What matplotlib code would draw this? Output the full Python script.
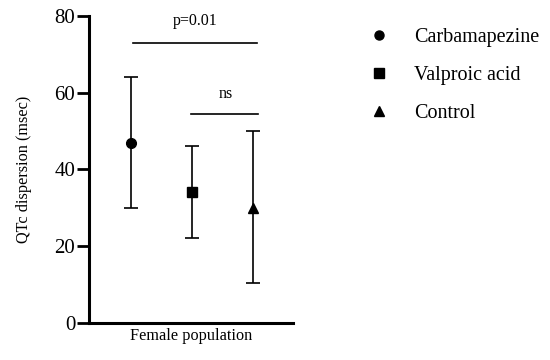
import matplotlib
matplotlib.use("Agg")
import matplotlib.pyplot as plt
from matplotlib.lines import Line2D

plt.rcParams['font.family'] = ['Liberation Serif', 'DejaVu Serif']

groups = ["Carbamapezine", "Valproic acid", "Control"]
means = [47, 34, 30]
lows = [30, 22, 10.5]
highs = [64, 46, 50]
markers = ["o", "s", "^"]
yticks = [0, 20, 40, 60, 80]

fig = plt.figure(figsize=(5.5, 3.6), dpi=100)
ax = fig.add_axes([0.162, 0.103, 0.371, 0.853])
xs = [1, 2, 3]
for x, m, lo, hi, mk in zip(xs, means, lows, highs, markers):
    ax.errorbar([x], [m], yerr=[[m - lo], [hi - m]], fmt=mk, color='black',
                ms=7, capsize=5, elinewidth=1.2, capthick=1.2)

ax.set_xlim(0.31, 3.66)
ax.set_ylim(0, 80)
ax.set_yticks(yticks)
ax.tick_params(axis='y', labelsize=15, width=2, length=8.5, pad=1.5)
ax.set_xticks([])
ax.set_xlabel("Female population", fontsize=11.7, labelpad=4)
ax.set_ylabel("QTc dispersion (msec)", fontsize=11.7, labelpad=16)
for s in ['top', 'right']:
    ax.spines[s].set_visible(False)
for s in ['left', 'bottom']:
    ax.spines[s].set_linewidth(2.2)

# significance brackets
ax.plot([1.03, 3.06], [73, 73], color='black', lw=1.2)
ax.text(2.05, 76.5, "p=0.01", ha='center', va='bottom', fontsize=11.5)
ax.plot([1.98, 3.08], [54.5, 54.5], color='black', lw=1.2)
ax.text(2.55, 57.5, "ns", ha='center', va='bottom', fontsize=11.5)

handles = [Line2D([], [], marker=mk, color='black', ls='none', ms=6.5) for mk in markers]
fig.legend(handles, groups, loc='upper left', bbox_to_anchor=(0.637, 0.972),
           frameon=False, fontsize=14.5, handletextpad=1.25, labelspacing=0.92,
           handlelength=1.0)

fig.savefig("out.png", dpi=100)
